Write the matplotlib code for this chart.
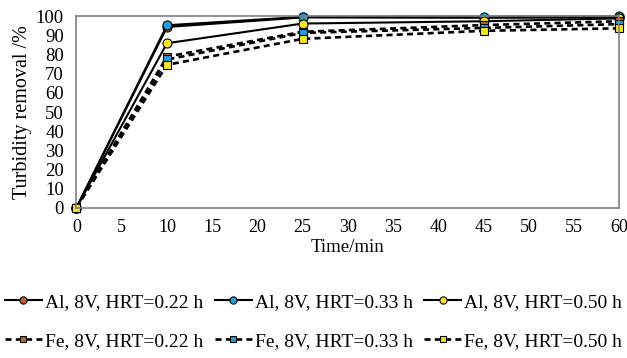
import numpy as np
import matplotlib.pyplot as plt

plt.rcParams['font.family'] = ['Liberation Serif', 'DejaVu Serif']

time_min = [0, 10, 25, 45, 60]
al_022 = [0, 94.5, 99.5, 99.3, 99.5]
al_033 = [0, 95.4, 99.8, 99.9, 100]
al_050 = [0, 86.0, 96.3, 97.5, 99.0]
fe_022 = [0, 79.0, 92.0, 95.5, 97.5]
fe_033 = [0, 77.5, 91.4, 94.0, 96.0]
fe_050 = [0, 74.7, 88.3, 92.5, 93.8]

labels = ['Al, 8V, HRT=0.22 h', 'Al, 8V, HRT=0.33 h', 'Al, 8V, HRT=0.50 h',
          'Fe, 8V, HRT=0.22 h', 'Fe, 8V, HRT=0.33 h', 'Fe, 8V, HRT=0.50 h']
colors = ['#c0622a', '#1fa0d8', '#f5e42a']

fig = plt.figure(figsize=(6.27, 3.58), dpi=100)
ax = fig.add_axes([0.122, 0.42, 0.866, 0.534])

h_al = []
for y, c, lab in zip([al_022, al_033, al_050], colors, labels[:3]):
    l, = ax.plot(time_min, y, color='black', lw=1.5, ls='-',
                 marker='o', ms=6.5, mfc=c, mec='black', mew=0.8, label=lab,
                 clip_on=False)
    h_al.append(l)
h_fe = []
for y, c, lab in zip([fe_022, fe_033, fe_050], colors, labels[3:]):
    l, = ax.plot(time_min, y, color='black', lw=1.9, ls=(0, (2.3, 1.6)),
                 marker='s', ms=6, mfc=c, mec='black', mew=0.8, label=lab,
                 clip_on=False)
    h_fe.append(l)

ax.set_xlim(0, 60)
ax.set_ylim(0, 100)
ax.set_xticks(np.arange(0, 61, 5))
ax.set_yticks(np.arange(0, 101, 10))
ax.tick_params(axis='y', length=0, labelsize=13.5, pad=9)
ax.tick_params(axis='x', length=0, labelsize=13, pad=8)
for s in ax.spines.values():
    s.set_color('#808080')
    s.set_linewidth(1.2)
ax.set_xlabel('Time/min', fontsize=13.5, labelpad=2)
ax.set_ylabel('Turbidity removal /%', fontsize=14.5, labelpad=3)

# legend fills column by column, so interleave to get Al row then Fe row
handles = [h_al[0], h_fe[0], h_al[1], h_fe[1], h_al[2], h_fe[2]]
leg_labels = [labels[0], labels[3], labels[1], labels[4], labels[2], labels[5]]
fig.legend(handles, leg_labels, ncol=3, loc='lower center',
           bbox_to_anchor=(0.5, -0.004), frameon=False, fontsize=14,
           handlelength=1.9, handletextpad=0.15, columnspacing=0.6,
           labelspacing=1.1, borderaxespad=0.1, markerscale=0.8)

fig.savefig('out.png', dpi=100)
